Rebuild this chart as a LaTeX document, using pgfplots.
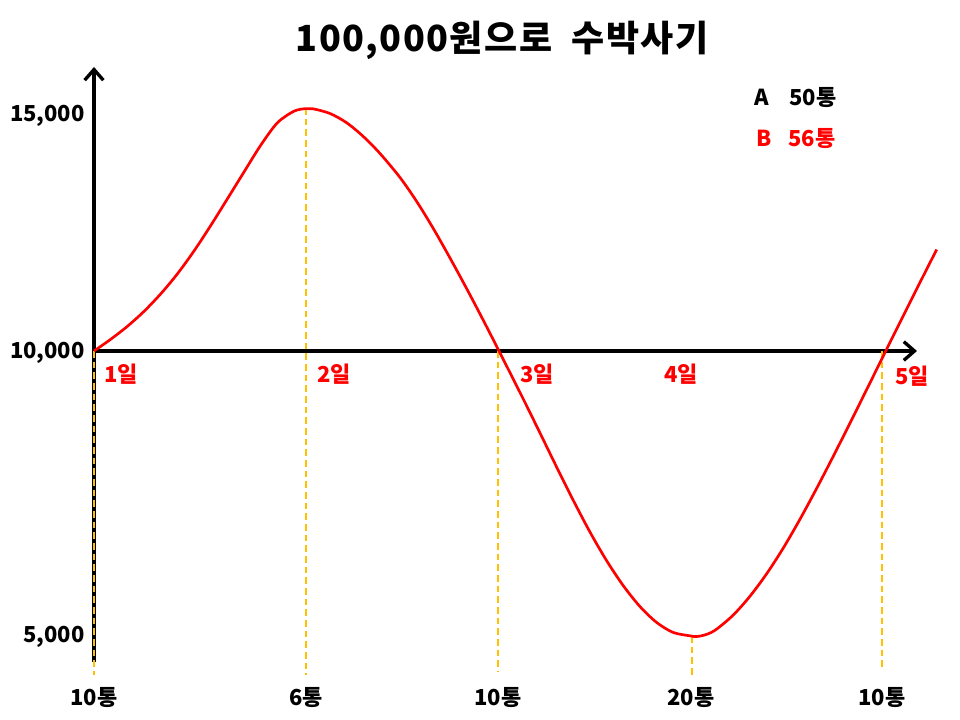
\documentclass[border=0pt]{standalone}
\usepackage{fontspec}
\setmainfont{Noto Sans CJK KR}
\usepackage{pgfplots}
\pgfplotsset{compat=1.18}
\usetikzlibrary{arrows.meta}
\definecolor{gold}{HTML}{FFC000}
\definecolor{pred}{HTML}{FF0000}
\begin{document}
\begin{tikzpicture}
\begin{axis}[
  scale only axis, width=634.5pt, height=448.5pt,
  xmin=94, xmax=940, ymin=55, ymax=653,
  clip=false,
  axis line style={draw=none},
  major tick length=0pt,
  xtick={94,306,498,691,882},
  xticklabels={10통,6통,10통,20통,10통},
  ytick={83,367,604},
  yticklabels={{5,000},{10,000},{15,000}},
  ticklabel style={font=\bfseries\fontsize{16.5}{19}\selectfont},
  xticklabel style={anchor=center, yshift=-24.75pt},
  yticklabel style={anchor=east, inner sep=0pt, xshift=-6.75pt},
]
\path (axis cs:0,0) rectangle (axis cs:960,720);
% axes
\addplot[black, line width=2.5pt, -{Straight Barb[length=8pt,width=14pt]}] coordinates {(94,58) (94,653)};
\addplot[black, line width=2.5pt, -{Straight Barb[length=8pt,width=14pt]}] coordinates {(94,369) (917,369)};
% guide lines
\addplot[gold, line width=1.5pt, dash pattern=on 5pt off 3pt] coordinates {(94,369) (94,45)};
\addplot[gold, line width=1.5pt, dash pattern=on 5pt off 3pt] coordinates {(306,612) (306,45)};
\addplot[gold, line width=1.5pt, dash pattern=on 5pt off 3pt] coordinates {(498,369) (498,48)};
\addplot[gold, line width=1.5pt, dash pattern=on 5pt off 3pt] coordinates {(692,84) (692,45)};
\addplot[gold, line width=1.5pt, dash pattern=on 5pt off 3pt] coordinates {(882,369) (882,50)};
% price curve
\addplot[pred, line width=2pt, smooth, tension=0.5] coordinates {
(94,369) (110.7,380.7) (127.3,393.6) (144,408.6) (160.7,426.1) (177.3,446)
(194,469) (210.7,494.4) (227.3,521) (244,548) (260.7,574.7) (277.3,597.1)
(294,608.8) (306,611.4) (313,611.2) (330,606.5) (346.7,597.2) (363.3,583.5)
(380,566.5) (400,542.5) (416.7,518.5) (433.3,491.5) (450,462) (466.7,431.3)
(483.3,399.7) (499,369) (523.3,320.9) (540,287) (556.7,252.8) (573.3,219.6)
(590,187.9) (606.7,159.2) (623.3,134.3) (640,113.4) (656.7,97.5) (673.3,87.5)
(691,84) (695,83.5) (700,83.9) (708,86.1) (716.7,90.9) (733.3,105) (750,123.8)
(766.7,146.3) (783.3,172) (800,200.8) (816.7,231.7) (833.3,263.8) (850,296.9)
(866.7,330.5) (885,367.5) (906.7,411.1) (923.3,444.1) (936.7,470.5)};
% day labels
\node[anchor=base west, inner sep=0pt, text=pred, font=\bfseries\fontsize{16.5}{19}\selectfont] at (axis cs:104,337) {1일};
\node[anchor=base west, inner sep=0pt, text=pred, font=\bfseries\fontsize{16.5}{19}\selectfont] at (axis cs:317,337) {2일};
\node[anchor=base west, inner sep=0pt, text=pred, font=\bfseries\fontsize{16.5}{19}\selectfont] at (axis cs:520,337) {3일};
\node[anchor=base west, inner sep=0pt, text=pred, font=\bfseries\fontsize{16.5}{19}\selectfont] at (axis cs:664,337) {4일};
\node[anchor=base west, inner sep=0pt, text=pred, font=\bfseries\fontsize{16.5}{19}\selectfont] at (axis cs:895,335) {5일};
% legend
\node[anchor=base west, inner sep=0pt, text=black, font=\bfseries\fontsize{16.5}{19}\selectfont] at (axis cs:754,614) {A};
\node[anchor=base west, inner sep=0pt, text=black, font=\bfseries\fontsize{16.5}{19}\selectfont] at (axis cs:789,614) {50통};
\node[anchor=base west, inner sep=0pt, text=pred, font=\bfseries\fontsize{16.5}{19}\selectfont] at (axis cs:756,573) {B};
\node[anchor=base west, inner sep=0pt, text=pred, font=\bfseries\fontsize{16.5}{19}\selectfont] at (axis cs:788,573) {56통};
% title
\node[anchor=base, inner sep=0pt, font=\bfseries\fontsize{27}{31}\selectfont\addfontfeature{LetterSpace=4}] at (axis cs:502,668) {100,000원으로\ \ 수박사기};
\end{axis}
\end{tikzpicture}
\end{document}
